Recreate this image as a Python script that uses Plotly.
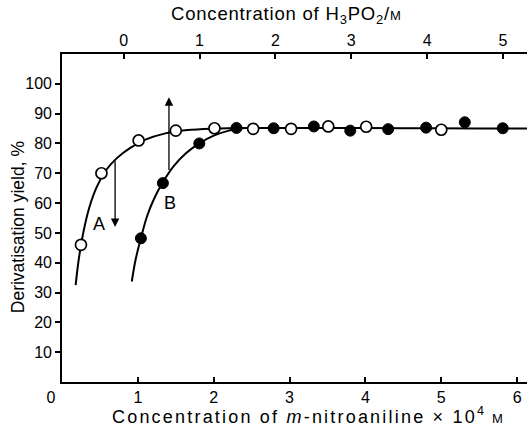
import plotly.graph_objects as go

# Open circles (series A)
a_x = [0.25, 0.52, 1.01, 1.50, 2.01, 2.52, 3.02, 3.51, 4.01, 5.00]
a_y = [46.0, 70.0, 81.0, 84.3, 85.1, 84.9, 84.9, 85.7, 85.6, 84.6]
# Filled circles (series B)
b_x = [1.04, 1.33, 1.81, 2.30, 2.79, 3.32, 3.80, 4.30, 4.80, 5.31, 5.81]
b_y = [48.2, 66.7, 80.0, 85.2, 85.1, 85.7, 84.3, 84.8, 85.3, 87.1, 85.1]
# Hand-drawn fitted curves
curve_a_x = [0.18, 0.22, 0.28, 0.36, 0.46, 0.58, 0.72, 0.90, 1.10, 1.35, 1.65, 2.00, 2.50, 3.50, 4.50, 5.50, 6.13]
curve_a_y = [32.5, 41.0, 50.0, 58.5, 65.5, 71.0, 75.0, 78.5, 81.3, 83.3, 84.5, 85.0, 85.2, 85.2, 85.1, 85.0, 85.0]
curve_b_x = [0.92, 0.97, 1.04, 1.12, 1.22, 1.33, 1.47, 1.63, 1.81, 2.00, 2.20, 2.40]
curve_b_y = [33.7, 41.0, 48.2, 55.5, 61.8, 67.0, 72.3, 76.6, 80.0, 82.6, 84.3, 85.2]

bottom_ticks = [0, 1, 2, 3, 4, 5, 6]
bottom_labels = ["0\u00a0\u00a0\u00a0\u00a0\u00a0", "1", "2", "3", "4", "5", "6"]
top_ticks = [0, 1, 2, 3, 4, 5]
top_offset = 0.813  # H3PO2 zero lies at m-nitroaniline 0.813
y_ticks = [10, 20, 30, 40, 50, 60, 70, 80, 90, 100]

bottom_title = ("<span style='letter-spacing:2.2px'>Concentration of <i>m</i>-nitroaniline × 10<sup>4</sup>"
                "\u2009<span style='font-size:13px'>M</span></span>")
top_title = ("<span style='letter-spacing:0.8px'>Concentration of H<sub>3</sub>PO<sub>2</sub>/"
             "<span style='font-size:13px'>M</span></span>")
y_title = "Derivatisation yield, %"

# Arrows: (x, y_start, y_end)
arrow_a = (0.70, 74.5, 52.0)
arrow_b = (1.41, 70.6, 95.5)
label_a = (0.49, 53.0, "A")
label_b = (1.42, 60.0, "B")

FONT = "Liberation Sans, Arial, sans-serif"

fig = go.Figure()
fig.add_trace(go.Scatter(x=curve_a_x, y=curve_a_y, mode="lines",
                         line=dict(color="black", width=2, shape="spline", smoothing=1.0),
                         hoverinfo="skip", showlegend=False))
fig.add_trace(go.Scatter(x=curve_b_x, y=curve_b_y, mode="lines",
                         line=dict(color="black", width=2, shape="spline", smoothing=1.0),
                         hoverinfo="skip", showlegend=False))
fig.add_trace(go.Scatter(x=b_x, y=b_y, mode="markers",
                         marker=dict(symbol="circle", size=11, color="black",
                                     line=dict(color="black", width=1)),
                         showlegend=False))
fig.add_trace(go.Scatter(x=a_x, y=a_y, mode="markers",
                         marker=dict(symbol="circle", size=11, color="white",
                                     line=dict(color="black", width=1.7)),
                         showlegend=False))
# invisible trace for top axis
fig.add_trace(go.Scatter(x=[top_ticks[0]], y=[None], xaxis="x2", mode="markers",
                         showlegend=False, hoverinfo="skip"))

for ax_x, y0, y1 in [arrow_a, arrow_b]:
    fig.add_annotation(x=ax_x, y=y1, ax=ax_x, ay=y0, xref="x", yref="y",
                       axref="x", ayref="y", showarrow=True, arrowhead=2,
                       arrowsize=1.3, arrowwidth=1.3, arrowcolor="black", text="")
for lx, ly, t in [label_a, label_b]:
    fig.add_annotation(x=lx, y=ly, xref="x", yref="y", text=t, showarrow=False,
                       font=dict(family=FONT, size=18, color="black"))

# Axis titles
fig.add_annotation(x=0.53, y=-0.101, xref="paper", yref="paper", text=bottom_title,
                   showarrow=False, xanchor="center", yanchor="middle",
                   font=dict(family=FONT, size=18, color="black"))
fig.add_annotation(x=0.482, y=1.12, xref="paper", yref="paper", text=top_title,
                   showarrow=False, xanchor="center", yanchor="middle",
                   font=dict(family=FONT, size=18.5, color="black"))
fig.add_annotation(x=-0.096, y=0.473, xref="paper", yref="paper", text=y_title,
                   showarrow=False, xanchor="center", yanchor="middle", textangle=-90,
                   font=dict(family=FONT, size=17.5, color="black"))

xmax = 6.13
fig.update_layout(
    width=530, height=423,
    margin=dict(l=61.6, r=530 - 61.6 - xmax * 75.9, t=54.3, b=41),
    paper_bgcolor="white", plot_bgcolor="white",
    font=dict(family=FONT, size=16, color="black"),
    xaxis=dict(range=[0, xmax], tickvals=bottom_ticks, ticktext=bottom_labels,
               ticks="inside", ticklen=5, tickwidth=1.5, tickcolor="black",
               showline=True, linecolor="black", linewidth=1.6, mirror=False,
               showgrid=False, zeroline=False),
    xaxis2=dict(range=[-top_offset, xmax - top_offset], overlaying="x", side="top",
                tickvals=top_ticks, ticks="inside", ticklen=5, tickwidth=1.5, tickcolor="black",
                showline=True, linecolor="black", linewidth=1.6,
                showgrid=False, zeroline=False),
    yaxis=dict(range=[0, 110], tickvals=y_ticks, ticks="outside", ticklen=5,
               tickwidth=1.5, tickcolor="black",
               showline=True, linecolor="black", linewidth=1.6,
               showgrid=False, zeroline=False),
)

fig.write_html("out.html")
